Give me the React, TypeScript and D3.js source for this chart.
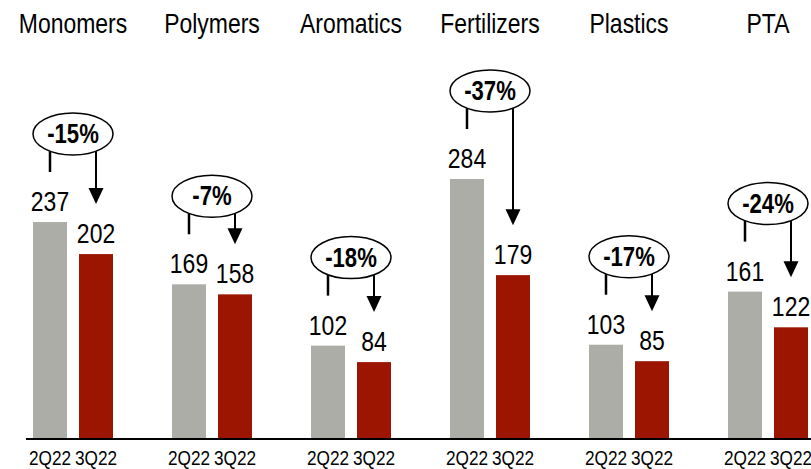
import React from 'react';
import * as d3 from 'd3';

const categories = ['Monomers', 'Polymers', 'Aromatics', 'Fertilizers', 'Plastics', 'PTA'];
const periods = ['2Q22', '3Q22'];
const values2Q22 = [237, 169, 102, 284, 103, 161];
const values3Q22 = [202, 158, 84, 179, 85, 122];
const changeLabels = ['-15%', '-7%', '-18%', '-37%', '-17%', '-24%'];

const width = 811;
const height = 469;
const baseY = 439;
const font = '"Liberation Sans", Arial, sans-serif';
const barColors = ['#adada8', '#9b1500'];

// no narrow font installed, so squeeze Liberation Sans horizontally
const NText = ({ x, y, size, bold = false, children }: any) => (
  <text
    transform={`translate(${x},${y}) scale(0.82,1)`}
    textAnchor="middle"
    fontSize={size}
    fontWeight={bold ? 'bold' : 'normal'}
    fill="#000"
  >
    {children}
  </text>
);

export default function App() {
  const x = d3.scalePoint<string>().domain(categories).range([73, 768]);
  const inner = d3.scaleBand<string>().domain(periods).range([-40, 40]).paddingInner(0.261);
  const y = d3.scaleLinear().domain([0, 284]).range([baseY, 179]);
  const bw = inner.bandwidth();

  const rx = 40;
  const ry = 21;

  return (
    <svg width={width} height={height} style={{ position: 'absolute', left: 0, top: 0, fontFamily: font }}>
      <rect width={width} height={height} fill="#fff" />
      {categories.map((c, i) => {
        const cx = x(c)!;
        const vals = [values2Q22[i], values3Q22[i]];
        const xs = periods.map(p => cx + inner(p)! + bw / 2);
        const top = y(Math.max(...vals));
        const cy = top - 88;
        const lineStartY = xs.map(xx => cy + ry * Math.sqrt(1 - Math.pow((xx - cx) / rx, 2)));
        const tipY = y(vals[1]) - 50;
        return (
          <g key={c}>
            <NText x={cx} y={33} size={28}>{c}</NText>
            {periods.map((p, j) => (
              <g key={p}>
                <rect x={cx + inner(p)!} y={y(vals[j])} width={bw} height={baseY - y(vals[j])} fill={barColors[j]} />
                <NText x={xs[j]} y={y(vals[j]) - 11} size={28}>{vals[j]}</NText>
                <NText x={xs[j]} y={465} size={21}>{p}</NText>
              </g>
            ))}
            <line x1={xs[0]} x2={xs[0]} y1={lineStartY[0]} y2={y(vals[0]) - 50} stroke="#000" strokeWidth={2.5} />
            <line x1={xs[1]} x2={xs[1]} y1={lineStartY[1]} y2={tipY - 14} stroke="#000" strokeWidth={2} />
            <path d={d3.line()([[xs[1] - 7.5, tipY - 16], [xs[1] + 7.5, tipY - 16], [xs[1], tipY]])! + 'Z'} fill="#000" />
            <ellipse cx={cx} cy={cy} rx={rx} ry={ry} fill="#fff" stroke="#000" strokeWidth={1.5} />
            <NText x={cx} y={cy + 9} size={27} bold>{changeLabels[i]}</NText>
          </g>
        );
      })}
      <line x1={26} x2={width} y1={baseY} y2={baseY} stroke="#000" strokeWidth={2} />
    </svg>
  );
}
